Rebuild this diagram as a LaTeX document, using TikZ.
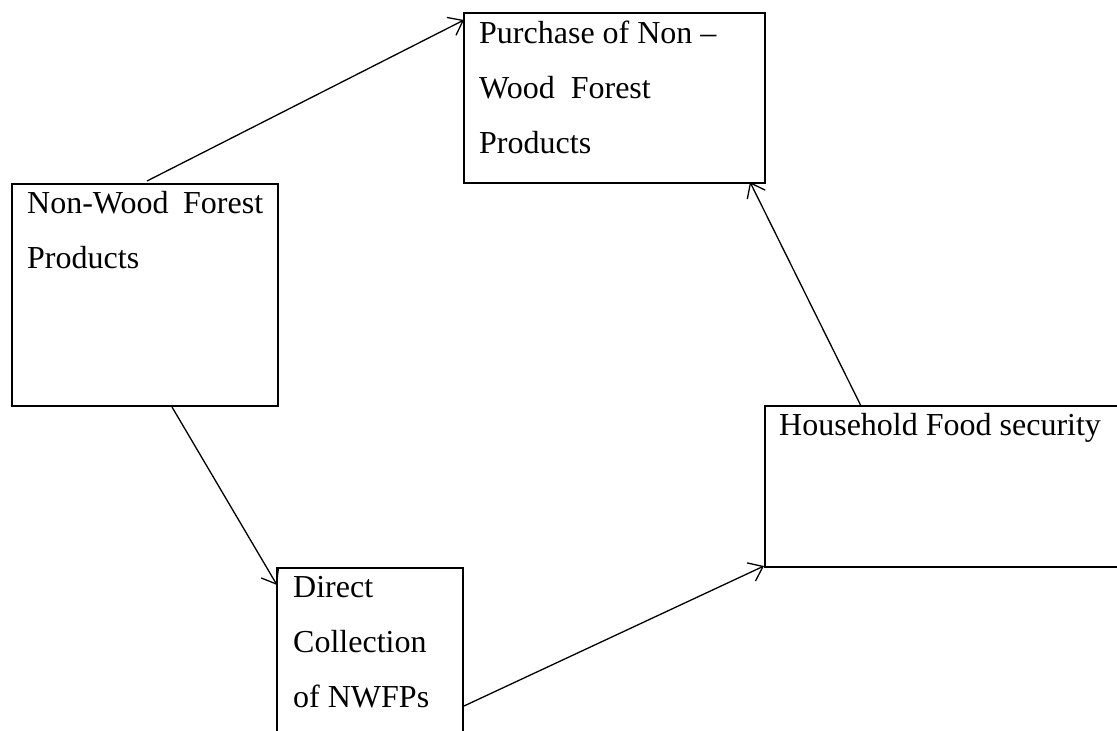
\documentclass[tikz,border=0pt]{standalone}
\usepackage{fontspec}
\setmainfont{Liberation Serif}
\usetikzlibrary{arrows.meta}
\begin{document}
\begin{tikzpicture}[x=1pt,y=-1pt,
  box/.style={draw, line width=1.8pt, inner sep=0pt, outer sep=0pt, anchor=north west},
  txt/.style={anchor=base west, inner sep=0pt, align=flush left, font=\fontsize{32}{55}\selectfont},
  arr/.style={line width=1.3pt, -{Straight Barb[length=13pt,width=20pt,line width=1.3pt]}}]
\useasboundingbox (0,0) rectangle (1117,731);
\clip (0,0) rectangle (1117,731);
\node[box, minimum width=266pt, minimum height=222pt] (A) at (12,184) {};
\node[box, minimum width=301pt, minimum height=170pt] (B) at (464,13) {};
\node[box, minimum width=354pt, minimum height=161pt] (C) at (765,406) {};
\node[box, minimum width=186pt, minimum height=192pt] (D) at (277,568) {};
\node[txt, text width=236pt] (tA) at (27,213) {Non-Wood\hfill Forest\\Products};
\node[txt, text width=280pt] (tB) at (479,43) {Purchase of Non –\\Wood\ \ Forest\\Products};
\node[txt, text width=340pt] (tC) at (779,435) {Household Food security};
\node[txt, text width=160pt] (tD) at (293,597) {Direct\\Collection\\of NWFPs};
\draw[arr] ([xshift=135pt,yshift=3pt]A.north west) -- ([yshift=-7pt]B.north west);
\draw[arr] ([xshift=160pt,yshift=-1pt]A.south west) -- ([yshift=-17pt]D.north west);
\draw[arr] ([xshift=1pt,yshift=-138pt]D.north east) -- ([xshift=-1pt,yshift=1pt]C.south west);
\draw[arr] ([xshift=96pt]C.north west) -- ([xshift=-15pt,yshift=1pt]B.south east);
\end{tikzpicture}
\end{document}
